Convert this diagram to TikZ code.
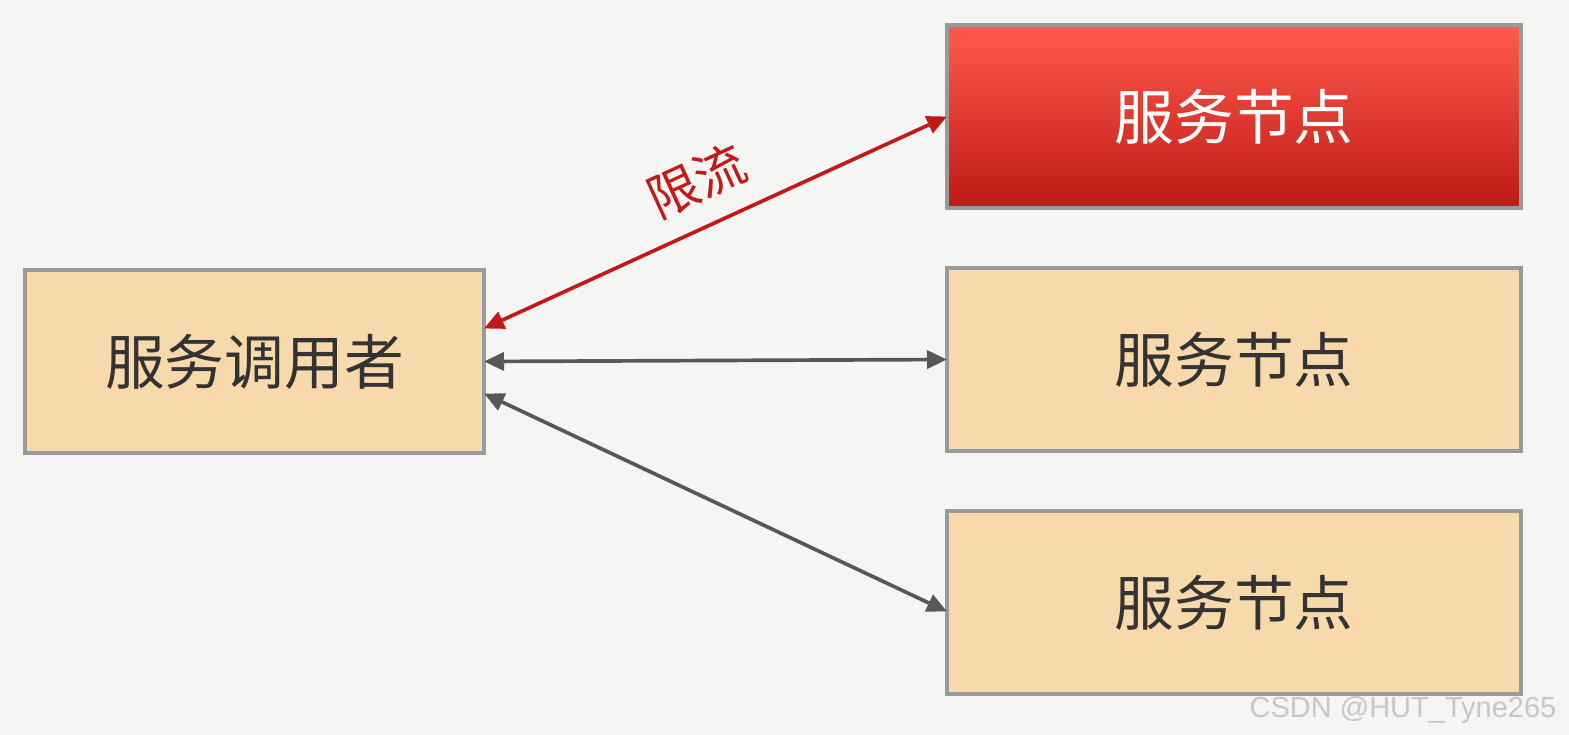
\documentclass[tikz,border=0pt]{standalone}
\usepackage{fontspec}
\setmainfont{Noto Sans CJK SC}
\newfontfamily\wmfont{Liberation Sans}
\usetikzlibrary{positioning, arrows.meta, calc}
\definecolor{canvasbg}{HTML}{F5F5F3}
\definecolor{boxfill}{HTML}{F7D9AC}
\definecolor{boxedge}{HTML}{9A9A9A}
\definecolor{limitred}{HTML}{C41A17}
\definecolor{hottop}{HTML}{FF5B4C}
\definecolor{hotbottom}{HTML}{BE1A16}
\definecolor{linkgrey}{HTML}{585858}

\begin{document}
\begin{tikzpicture}[
  font=\fontsize{34}{40}\selectfont,
  node distance=1.2cm,
  svcbox/.style={
    draw=boxedge,
    line width=2pt,
    fill=boxfill,
    rectangle,
    minimum width=11.48cm,
    minimum height=3.66cm,
    align=center,
    inner sep=0pt,
    outer sep=0pt,
    text={black!80}
  },
  callerbox/.style={svcbox, minimum width=9.18cm},
  hotbox/.style={svcbox, fill=none, top color=hottop, bottom color=hotbottom, text=white},
  link/.style={
    {Triangle[length=4mm, width=3.6mm]}-{Triangle[length=4mm, width=3.6mm]},
    line width=2.1pt,
    color=linkgrey
  }
]

  % canvas, same size as the reference
  \fill[canvasbg] (0,0) rectangle (31.38,-14.7);
  \useasboundingbox (0,0) rectangle (31.38,-14.7);

  % --- caller on the left, service nodes stacked on the right ---
  \node[callerbox]            (caller) at (5.09,-7.23) {服务调用者};
  \node[svcbox]               (n2)     at (24.68,-7.19) {服务节点};
  \node[hotbox, above=of n2]  (n1) {服务节点};
  \node[svcbox, below=of n2]  (n3) {服务节点};

  % Links between caller and nodes
  \draw[link, color=limitred] ($(caller.east)+(0,0.66)$) -- (n1.west)
    node[midway, above=3mm, sloped, text=limitred, font=\fontsize{29}{34}\selectfont] (lim) {限流};
  \draw[link] (caller.east) -- (n2.west);
  \draw[link] ($(caller.east)+(0,-0.64)$) -- ($(n3.west)+(0,-0.18)$);

  % site mark, bottom right
  \node[anchor=south east, text=black!22, font=\wmfont\fontsize{16.5}{20}\selectfont]
       (mark) at (31.25,-14.6) {CSDN @HUT\_Tyne265};

\end{tikzpicture}
\end{document}
